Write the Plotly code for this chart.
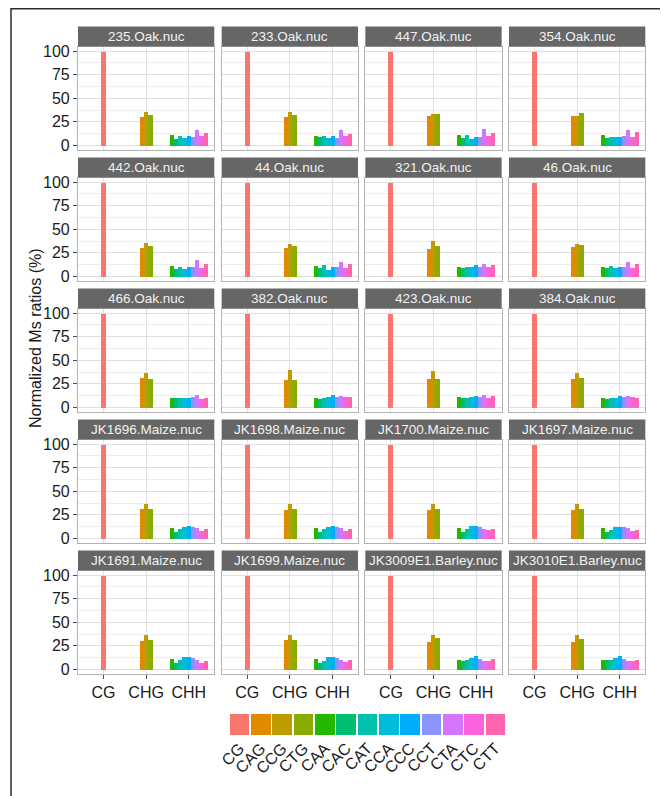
import plotly.graph_objects as go

# ---------------- data ----------------
samples = ["235.Oak.nuc", "233.Oak.nuc", "447.Oak.nuc", "354.Oak.nuc",
           "442.Oak.nuc", "44.Oak.nuc", "321.Oak.nuc", "46.Oak.nuc",
           "466.Oak.nuc", "382.Oak.nuc", "423.Oak.nuc", "384.Oak.nuc",
           "JK1696.Maize.nuc", "JK1698.Maize.nuc", "JK1700.Maize.nuc", "JK1697.Maize.nuc",
           "JK1691.Maize.nuc", "JK1699.Maize.nuc", "JK3009E1.Barley.nuc", "JK3010E1.Barley.nuc"]

groups = ["CG", "CHG", "CHH"]
contexts = ["CG", "CAG", "CCG", "CTG", "CAA", "CAC", "CAT", "CCA", "CCC", "CCT", "CTA", "CTC", "CTT"]
context_group = ["CG", "CHG", "CHG", "CHG", "CHH", "CHH", "CHH", "CHH", "CHH", "CHH", "CHH", "CHH", "CHH"]

CG  = [100, 100, 100, 100, 100, 100, 100, 100, 100, 100, 100, 100, 100, 100, 100, 100, 100, 100, 100, 100]
CAG = [31.0, 30.5, 31.9, 31.9, 30.2, 30.2, 29.8, 31.2, 31.2, 29.8, 30.9, 30.5, 31.2, 30.5, 30.9, 30.2, 30.2, 31.2, 29.8, 29.5]
CCG = [36.0, 36.0, 34.0, 31.9, 36.1, 35.1, 37.9, 35.0, 37.5, 40.4, 38.6, 37.5, 36.5, 36.5, 36.8, 37.5, 37.5, 37.2, 36.5, 37.5]
CTG = [32.6, 33.0, 33.3, 35.1, 33.0, 32.6, 32.6, 34.0, 30.9, 29.8, 30.5, 31.6, 31.6, 31.9, 31.6, 31.6, 31.9, 31.2, 33.3, 32.3]
CAA = [11.2, 10.9, 11.9, 11.6, 11.6, 11.6, 10.9, 10.9, 10.9, 10.5, 11.2, 10.9, 11.9, 11.9, 11.9, 11.9, 11.9, 11.6, 10.2, 10.2]
CAC = [7.7, 9.1, 8.4, 8.1, 8.1, 9.1, 9.1, 9.1, 10.5, 9.8, 10.2, 9.5, 7.4, 7.7, 7.7, 7.4, 7.4, 7.7, 9.5, 10.2]
CAT = [10.9, 10.2, 11.6, 9.1, 10.9, 12.3, 10.5, 11.2, 10.9, 10.5, 10.5, 10.2, 10.2, 10.2, 10.2, 9.8, 10.2, 9.8, 10.5, 10.2]
CCA = [8.4, 8.8, 7.4, 9.1, 8.4, 7.4, 10.9, 9.5, 10.9, 11.2, 11.2, 10.9, 13.0, 13.0, 13.3, 13.0, 13.7, 13.7, 12.6, 12.3]
CCC = [10.5, 10.5, 9.1, 9.8, 10.5, 10.5, 12.6, 10.5, 10.9, 14.0, 12.3, 12.6, 13.3, 13.3, 13.3, 13.0, 13.7, 14.0, 14.4, 15.1]
CCT = [9.5, 8.8, 9.1, 10.2, 10.9, 10.5, 10.9, 10.5, 11.2, 11.9, 11.2, 11.6, 12.6, 12.9, 12.6, 12.6, 13.0, 13.0, 11.2, 11.9]
CTA = [16.5, 16.8, 17.9, 16.5, 18.2, 16.1, 14.0, 15.8, 13.7, 12.6, 13.3, 12.6, 11.2, 11.2, 10.5, 11.2, 10.2, 10.5, 9.8, 9.1]
CTC = [10.5, 10.5, 10.5, 9.8, 9.8, 9.8, 10.5, 9.8, 9.1, 11.2, 10.5, 11.6, 8.1, 8.8, 9.1, 8.4, 7.7, 8.1, 9.5, 9.1]
CTT = [13.7, 12.6, 14.0, 14.7, 13.7, 13.3, 13.0, 13.7, 10.9, 11.2, 12.3, 10.9, 10.5, 10.2, 10.2, 9.8, 9.8, 10.2, 11.2, 10.2]

series = [CG, CAG, CCG, CTG, CAA, CAC, CAT, CCA, CCC, CCT, CTA, CTC, CTT]

colors = ["#F8766D", "#E18A00", "#BE9C00", "#8CAB00", "#24B700", "#00BE70", "#00C1AB",
          "#00BBDA", "#00ACFC", "#8B93FF", "#D575FE", "#F962DD", "#FF65AC"]

y_ticks = [0, 25, 50, 75, 100]
y_title = "Normalized Ms ratios (%)"

# ---------------- layout geometry (page pixels) ----------------
OFF = 8                      # default page body margin
W, H = 668 - OFF, 796 - OFF  # figure size so that the page fills the window
col_x0 = 78.0
col_pitch = 143.67
panel_w = 136.3
row_y0 = 26.5
row_pitch = 131.0
strip_h = 20.0
panel_h = 103.5
bar_w = 0.1

def px(x):
    return (x - OFF) / W

def py(y):
    return 1 - (y - OFF) / H

# dodge positions within each group
pos = []
for j, c in enumerate(contexts):
    g = context_group[j]
    members = [k for k, cg in enumerate(context_group) if cg == g]
    n = len(members)
    idx = members.index(j)
    pos.append(groups.index(g) + 1 + (idx - (n - 1) / 2) * bar_w)

fig = go.Figure()
shapes = []
annotations = []
layout_axes = {}

for i, s in enumerate(samples):
    r, c = divmod(i, 4)
    k = i + 1
    xs = "" if k == 1 else str(k)
    x0 = col_x0 + c * col_pitch
    x1 = x0 + panel_w
    st = row_y0 + r * row_pitch
    pt = st + strip_h
    pb = pt + panel_h

    fig.add_trace(go.Bar(
        x=pos, y=[ser[i] for ser in series], width=bar_w,
        marker=dict(color=colors, line=dict(width=0)),
        xaxis="x" + xs, yaxis="y" + xs, showlegend=False,
    ))

    bottom = (r == 4)
    left = (c == 0)
    layout_axes["xaxis" + xs] = dict(
        domain=[px(x0), px(x1)], anchor="y" + xs, range=[0.4, 3.6],
        tickvals=[1, 2, 3], ticktext=groups, showticklabels=bottom,
        ticks="outside" if bottom else "", ticklen=4, tickcolor="#4D4D4D",
        tickfont=dict(size=16, color="#1A1A1A"),
        showgrid=True, gridcolor="#E0E0E0", gridwidth=1.1,
        showline=True, mirror=True, linecolor="#B3B3B3", linewidth=1.2,
        zeroline=False, fixedrange=True, automargin=False,
    )
    layout_axes["yaxis" + xs] = dict(
        domain=[py(pb), py(pt)], anchor="x" + xs, range=[-5, 105],
        tickvals=y_ticks, showticklabels=left,
        ticks="outside" if left else "", ticklen=4, tickcolor="#4D4D4D",
        tickfont=dict(size=16, color="#1A1A1A"),
        showgrid=True, gridcolor="#E0E0E0", gridwidth=1.1,
        minor=dict(tickvals=[12.5, 37.5, 62.5, 87.5], showgrid=True,
                   gridcolor="#EDEDED", gridwidth=0.6, ticks=""),
        showline=True, mirror=True, linecolor="#B3B3B3", linewidth=1.2,
        zeroline=False, fixedrange=True, automargin=False,
    )
    shapes.append(dict(type="rect", xref="paper", yref="paper",
                       x0=px(x0), x1=px(x1), y0=py(pt), y1=py(st),
                       fillcolor="#666666", line=dict(width=0), layer="above"))
    annotations.append(dict(text=s, xref="paper", yref="paper",
                            x=px((x0 + x1) / 2), y=py((st + pt) / 2),
                            xanchor="center", yanchor="middle", showarrow=False,
                            font=dict(size=13.5, color="#F2F2F2")))

# legend as colour keys with rotated labels
k = len(samples) + 1
fig.add_trace(go.Bar(
    x=contexts, y=[1] * len(contexts), width=0.92,
    marker=dict(color=colors, line=dict(width=0)),
    xaxis="x%d" % k, yaxis="y%d" % k, showlegend=False, hoverinfo="x",
))
layout_axes["xaxis%d" % k] = dict(
    domain=[px(229), px(506)], anchor="y%d" % k, range=[-0.5, 12.5],
    tickangle=-45, ticks="", showgrid=False, showline=False, zeroline=False,
    tickfont=dict(size=16, color="#1A1A1A"), fixedrange=True,
    type="category", automargin=False,
)
layout_axes["yaxis%d" % k] = dict(
    domain=[py(735), py(714)], anchor="x%d" % k, range=[0, 1],
    showticklabels=False, ticks="", showgrid=False, showline=False,
    zeroline=False, fixedrange=True, automargin=False,
)

# y-axis title
annotations.append(dict(text=y_title, xref="paper", yref="paper",
                        x=px(35), y=py(338), textangle=-90,
                        xanchor="center", yanchor="middle", showarrow=False,
                        font=dict(size=16, color="#1A1A1A")))

# outer frame (left and top edges visible)
shapes.append(dict(type="rect", xref="paper", yref="paper",
                   x0=px(11), x1=1.05, y0=-0.05, y1=py(8.8),
                   line=dict(color="#2B2B2B", width=1.5), fillcolor="rgba(0,0,0,0)"))

fig.update_layout(
    width=W, height=H,
    margin=dict(l=0, r=0, t=0, b=0, pad=0, autoexpand=False),
    paper_bgcolor="white", plot_bgcolor="white",
    font=dict(family="Liberation Sans, Arial, sans-serif"),
    shapes=shapes, annotations=annotations, bargap=0,
    **layout_axes,
)

fig.write_html("out.html")
